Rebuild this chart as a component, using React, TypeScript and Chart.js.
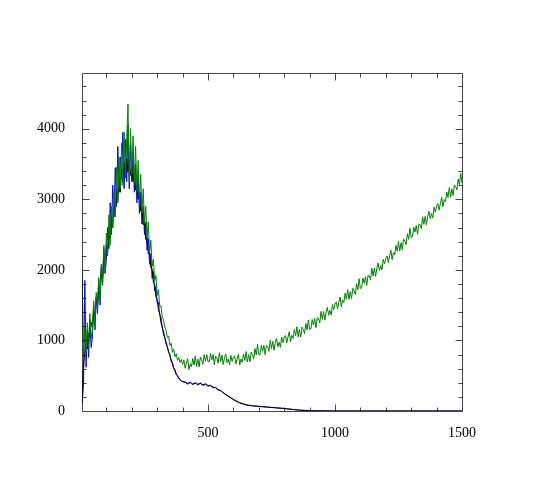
import React, { useEffect, useRef } from "react";
import { Chart, registerables } from "chart.js";

Chart.register(...registerables);

// sampling grids (x values)
const headX = Array.from({ length: 80 }, (_, i) => 5 + 5 * i); // 5..400
const tailX = Array.from({ length: 60 }, (_, i) => 410 + 10 * i); // 410..1000
const greenTailX = Array.from({ length: 220 }, (_, i) => 405 + 5 * i); // 405..1500
const farX = [1100, 1200, 1300, 1400, 1500];

const xMajorTicks = [500, 1000, 1500];
const yMajorTicks = [0, 1000, 2000, 3000, 4000];

const blackHead = [
  220, 650, 820, 1020, 880, 1100, 1050, 1260, 1180, 1420, 1340, 1600, 1500, 1780, 1700, 2000,
  1880, 2200, 2080, 2360, 2250, 2560, 2440, 2760, 2600, 2950, 2800, 3120, 2980, 3280, 3100, 3420,
  3250, 3520, 3330, 3580, 3380, 3560, 3340, 3480, 3250, 3380, 3130, 3250, 3000, 3100, 2830, 2880,
  2640, 2670, 2430, 2450, 2230, 2240, 2030, 2020, 1820, 1800, 1620, 1580, 1430, 1380, 1250, 1190,
  1080, 1040, 950, 910, 830, 790, 710, 670, 600, 570, 520, 495, 460, 445, 425, 415,
];
const blackTail = [
  405, 380, 402, 372, 396, 368, 392, 362, 380, 352, 360, 330, 330, 296, 285, 256, 232, 206, 186, 160,
  142, 122, 108, 96, 87, 80, 75, 71, 68, 65, 62, 59, 56, 53, 50, 47, 44, 41, 38, 35,
  31, 27, 23, 19, 15, 12, 10, 8, 6, 5, 4, 3, 3, 2, 2, 1, 1, 1, 0, 0,
];
const blackFar = [0, 0, 0, 0, 0];

const blueHead = [
  120, 380, 1850, 620, 1150, 760, 1300, 900, 1050, 1500, 1150, 1620, 1380, 1850, 1500, 2050,
  1780, 2300, 1950, 2150, 2600, 2300, 2950, 2500, 3200, 2750, 3450, 2900, 3750, 3100, 3600, 3300,
  3950, 3150, 3850, 3250, 4050, 3150, 3800, 3250, 3650, 3100, 3500, 2950, 3350, 2800, 3100, 2650,
  2900, 2500, 2680, 2280, 2450, 2080, 2230, 1880, 1980, 1700, 1760, 1530, 1540, 1360, 1330, 1180,
  1130, 1040, 980, 910, 840, 800, 720, 690, 610, 590, 520, 505, 460, 450, 425, 420,
];
const blueTail = [
  412, 392, 408, 385, 402, 380, 398, 372, 386, 362, 364, 338, 334, 305, 290, 262, 238, 212, 190, 165,
  146, 126, 111, 99, 89, 82, 77, 73, 70, 66, 63, 60, 57, 54, 51, 48, 45, 42, 39, 36,
  32, 28, 24, 20, 16, 13, 11, 9, 7, 6, 5, 4, 3, 3, 2, 2, 1, 1, 1, 0,
];
const blueFar = [0, 0, 0, 0, 0];

const greenHead = [
  1950, 760, 1180, 820, 1250, 920, 1380, 1020, 1150, 1560, 1200, 1680, 1450, 1890, 1580, 2080,
  1800, 2350, 1950, 2520, 2200, 2780, 2350, 2900, 2600, 3100, 2750, 3450, 2950, 3600, 3150, 3800,
  3200, 3950, 3300, 3850, 4350, 3250, 4000, 3350, 3900, 3250, 3750, 3100, 3550, 2950, 3350, 2800,
  3150, 2650, 2900, 2450, 2680, 2250, 2420, 2050, 2150, 1850, 1920, 1640, 1720, 1480, 1490, 1330,
  1290, 1190, 1140, 1040, 1060, 930, 960, 830, 880, 770, 810, 720, 760, 690, 730, 660,
];
const greenTail = [
  725, 605, 675, 740, 585, 670, 625, 745, 650, 780, 630, 735, 625, 765, 725, 660, 800, 705, 800, 700,
  698, 816, 725, 799, 657, 780, 754, 678, 826, 700, 793, 657, 755, 809, 683, 737, 655, 789, 702, 765,
  780, 665, 738, 805, 652, 735, 690, 810, 715, 843, 695, 800, 695, 835, 800, 740, 885, 795, 945, 800,
  802, 930, 847, 930, 797, 930, 912, 845, 1002, 885, 987, 860, 967, 1030, 912, 975, 902, 1045, 970, 1045,
  1070, 965, 1050, 1125, 980, 1070, 1030, 1155, 1065, 1195, 1050, 1155, 1050, 1190, 1155, 1095, 1240, 1150, 1290, 1155,
  1163, 1297, 1220, 1309, 1182, 1321, 1309, 1248, 1411, 1300, 1408, 1287, 1400, 1469, 1357, 1426, 1359, 1508, 1436, 1515,
  1545, 1446, 1536, 1617, 1477, 1573, 1538, 1669, 1584, 1720, 1580, 1691, 1591, 1737, 1707, 1653, 1803, 1719, 1874, 1735,
  1747, 1884, 1811, 1903, 1780, 1922, 1914, 1856, 2023, 1915, 2027, 1909, 2026, 2098, 1990, 2062, 1999, 2151, 2083, 2165,
  2199, 2103, 2197, 2281, 2145, 2244, 2213, 2347, 2266, 2405, 2269, 2383, 2287, 2436, 2410, 2359, 2513, 2432, 2591, 2455,
  2468, 2606, 2534, 2627, 2505, 2648, 2641, 2584, 2752, 2645, 2758, 2641, 2759, 2832, 2725, 2798, 2736, 2889, 2822, 2905,
  2941, 2847, 2943, 3029, 2895, 2996, 2967, 3103, 3024, 3165, 3031, 3147, 3053, 3204, 3180, 3131, 3287, 3208, 3369, 3235,
];

const pts = (xs: number[], ys: number[]) => ys.map((y, i) => ({ x: xs[i], y }));

const FONT = "'Liberation Serif', 'DejaVu Serif', serif";

const frameTicks = {
  id: "frameTicks",
  afterDatasetsDraw(chart: any) {
    const { ctx, chartArea, scales } = chart;
    const { left, right, top, bottom } = chartArea;
    const xs = scales.x;
    const ys = scales.y;
    ctx.save();
    ctx.strokeStyle = "rgba(0,0,0,0.72)";
    ctx.lineWidth = 1;
    const L = Math.round(left) + 0.5;
    const R = Math.round(right) + 0.5;
    const T = Math.round(top) + 0.5;
    const B = Math.round(bottom) + 0.5;
    ctx.beginPath();
    ctx.rect(L, T, R - L, B - T);
    ctx.stroke();
    ctx.beginPath();
    for (let v = 100; v < 1500; v += 100) {
      const len = xMajorTicks.includes(v) ? 7 : 4;
      const px = Math.round(xs.getPixelForValue(v)) + 0.5;
      ctx.moveTo(px, B);
      ctx.lineTo(px, B - len);
      ctx.moveTo(px, T);
      ctx.lineTo(px, T + len);
    }
    for (let v = 200; v < 4800; v += 200) {
      const len = yMajorTicks.includes(v) ? 7 : 4;
      const py = Math.round(ys.getPixelForValue(v)) + 0.5;
      ctx.moveTo(L, py);
      ctx.lineTo(L + len, py);
      ctx.moveTo(R, py);
      ctx.lineTo(R - len, py);
    }
    ctx.stroke();
    ctx.restore();
  },
};

export default function App() {
  const ref = useRef<HTMLCanvasElement | null>(null);
  useEffect(() => {
    if (!ref.current) return;
    const line = (label: string, color: string, data: any[]) => ({
      label,
      data,
      borderColor: color,
      backgroundColor: color,
      borderWidth: 1,
      pointRadius: 0,
      tension: 0,
      fill: false,
    });
    const chart = new Chart(ref.current, {
      type: "line",
      data: {
        datasets: [
          line("green", "#008000", [...pts(headX, greenHead), ...pts(greenTailX, greenTail)]),
          line("black", "#000000", [
            ...pts(headX, blackHead),
            ...pts(tailX, blackTail),
            ...pts(farX, blackFar),
          ]),
          line("blue", "#0000ff", [
            ...pts(headX, blueHead),
            ...pts(tailX, blueTail),
            ...pts(farX, blueFar),
          ]),
        ],
      },
      plugins: [frameTicks],
      options: {
        animation: false,
        responsive: false,
        devicePixelRatio: 1,
        layout: { padding: { left: 0, top: 73, right: 83, bottom: 0 } },
        plugins: { legend: { display: false }, tooltip: { enabled: false } },
        scales: {
          x: {
            type: "linear",
            min: 4,
            max: 1500,
            grid: { display: false },
            border: { display: false },
            afterBuildTicks: (s: any) => {
              s.ticks = xMajorTicks.map((v) => ({ value: v }));
            },
            afterFit: (s: any) => {
              s.height = 74;
            },
            ticks: {
              color: "#000",
              padding: 6,
              maxRotation: 0,
              font: { family: FONT, size: 14 },
              callback: (v: any) => String(v),
            },
          },
          y: {
            type: "linear",
            min: 0,
            max: 4790,
            grid: { display: false },
            border: { display: false },
            afterBuildTicks: (s: any) => {
              s.ticks = yMajorTicks.map((v) => ({ value: v }));
            },
            afterFit: (s: any) => {
              s.width = 82;
            },
            ticks: {
              color: "#000",
              padding: 9,
              font: { family: FONT, size: 14 },
              callback: (v: any) => String(v),
            },
          },
        },
      },
    });
    return () => chart.destroy();
  }, []);
  return (
    <div style={{ position: "absolute", left: 0, top: 0, width: 545, height: 485 }}>
      <canvas ref={ref} width={545} height={485} style={{ display: "block" }} />
    </div>
  );
}
